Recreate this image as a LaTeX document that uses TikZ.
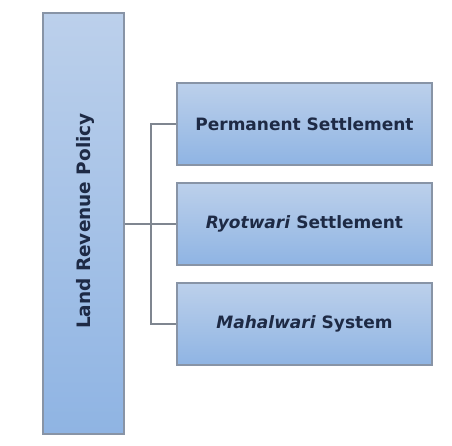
\documentclass[tikz,border=0pt]{standalone}
\usepackage{fontspec}
\setmainfont{DejaVu Sans}
\definecolor{boxtop}{HTML}{BCD0EB}
\definecolor{boxbot}{HTML}{8FB4E3}
\definecolor{boxline}{HTML}{8894A6}
\definecolor{txt}{HTML}{1E2A45}
\definecolor{conn}{HTML}{7F8690}
\begin{document}
\begin{tikzpicture}[x=1pt,y=-1pt,
  bluebox/.style={draw=boxline,line width=1.2pt,top color=boxtop,bottom color=boxbot,inner sep=0pt,
    text=txt,font=\bfseries\fontsize{17}{20}\selectfont},
  link/.style={draw=conn,line width=1.3pt}]
\useasboundingbox (0,0) rectangle (452,446);
\node[bluebox,minimum width=81pt,minimum height=421pt] (main) at (83.5,223.5) {};
\node[rotate=90,text=txt,font=\bfseries\fontsize{18.5}{21}\selectfont] (mainlbl) at (85,221) {Land Revenue Policy};
\node[bluebox,minimum width=255pt,minimum height=82pt] (perm) at (304.5,124) {Permanent Settlement};
\node[bluebox,minimum width=255pt,minimum height=82pt] (ryot) at (304.5,224) {\textit{Ryotwari} Settlement};
\node[bluebox,minimum width=255pt,minimum height=82pt] (mahal) at (304.5,324) {\textit{Mahalwari} System};
\coordinate (bus) at (151,224);
\draw[link] (main.east |- bus) -- (ryot.west);
\draw[link] (perm.west) -| (bus) |- (mahal.west);
\end{tikzpicture}
\end{document}
